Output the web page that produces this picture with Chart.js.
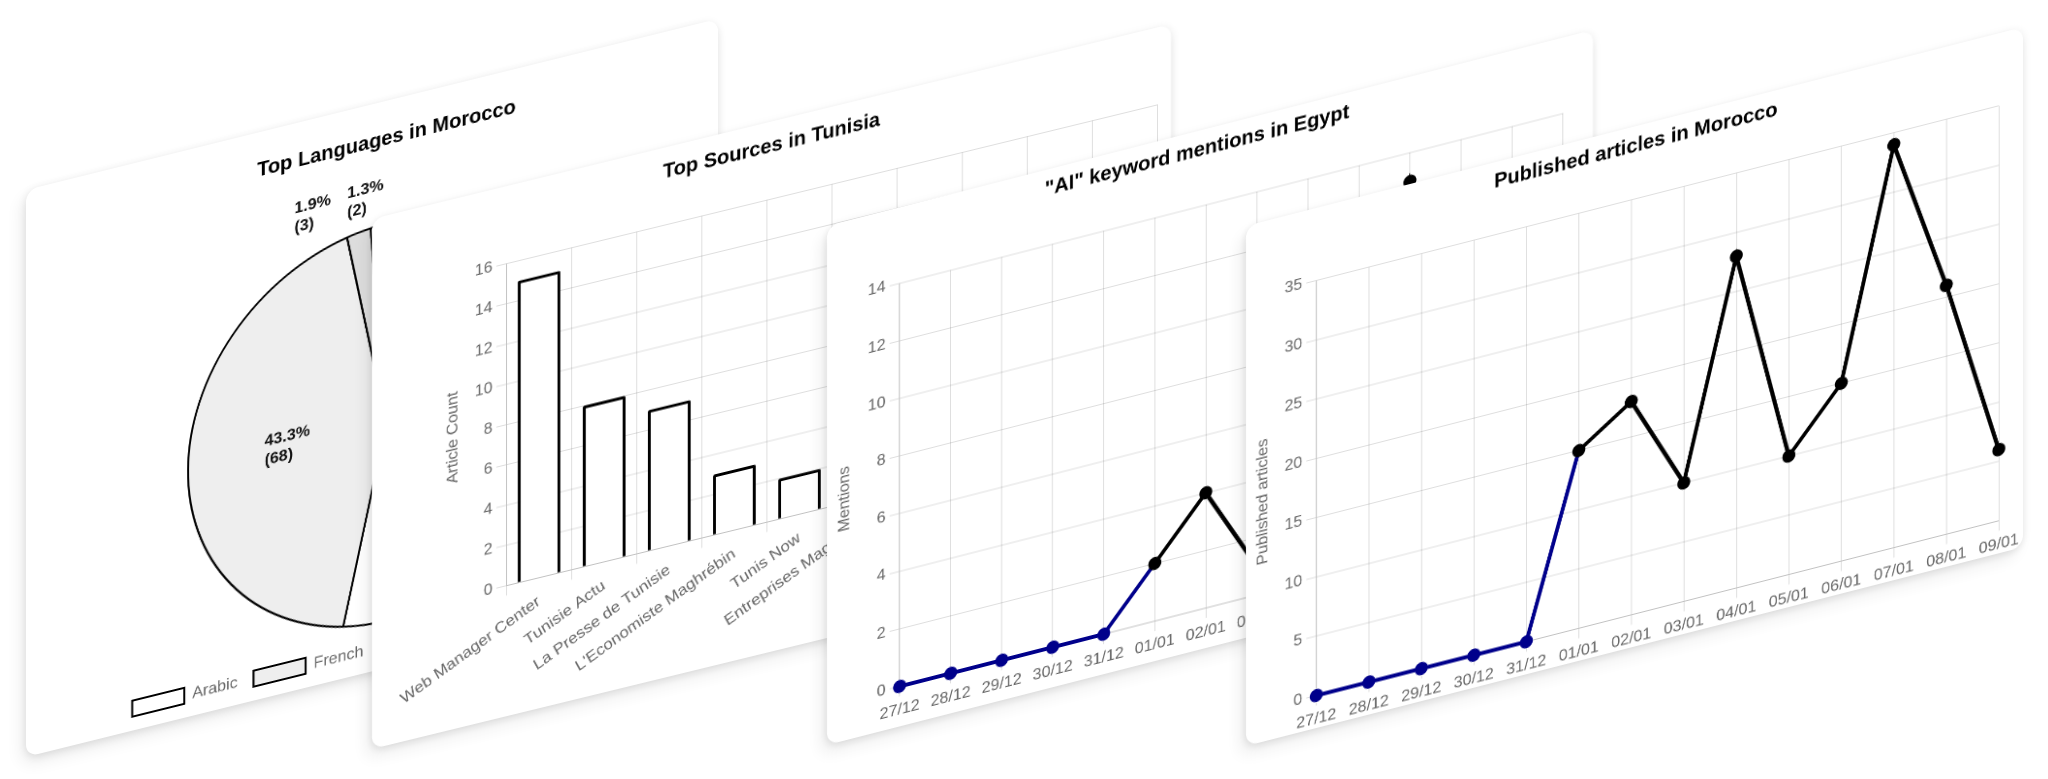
<!DOCTYPE html>
<html>
<head>
<meta charset="utf-8">
<script src="https://cdn.jsdelivr.net/npm/chart.js@4.4.1/dist/chart.umd.min.js"></script>
<style>
  html, body { margin:0; padding:0; background:#ffffff; width:2048px; height:779px; overflow:hidden; }
  .card { position:absolute; background:#fff; border-radius:12px; transform-origin:0 0;
          box-shadow: 0 2px 8px rgba(0,0,0,0.10), -5px 8px 16px rgba(0,0,0,0.07); overflow:hidden; }
  .card canvas { position:absolute; left:0; top:0; }
  #c1 { left:26px;  top:190px; width:692px; height:567px; transform:skewY(-13.9deg);  z-index:1; }
  #c2 { left:372px; top:219px; width:799px; height:530px; transform:skewY(-13.71deg); z-index:2; }
  #c3 { left:827px; top:226px; width:766px; height:519px; transform:skewY(-14.36deg); z-index:3; }
  #c4 { left:1246px;top:226px; width:777px; height:520px; transform:skewY(-14.36deg); z-index:4; }
</style>
</head>
<body>
<div class="card" id="c1"><canvas id="pie" width="692" height="567"></canvas></div>
<div class="card" id="c2"><canvas id="bar" width="799" height="530"></canvas></div>
<div class="card" id="c3"><canvas id="egypt" width="766" height="519"></canvas></div>
<div class="card" id="c4"><canvas id="morocco" width="777" height="520"></canvas></div>

<script>
// ---------------- DATA ----------------
const languageLabels = ['Arabic', 'French', 'English', 'Tamazight'];
const languageCounts = [84, 68, 3, 2];

const sourceLabels = ['Web Manager Center', 'Tunisie Actu', 'La Presse de Tunisie', "L'Economiste Maghrébin",
                      'Tunis Now', 'Entreprises Magazine', 'Kapitalis', 'Business News', 'Réalités', 'Leaders'];
const sourceCounts = [15, 8, 7, 3, 2, 2, 1, 1, 1, 1];

const dayLabels = ['27/12', '28/12', '29/12', '30/12', '31/12', '01/01', '02/01',
                   '03/01', '04/01', '05/01', '06/01', '07/01', '08/01', '09/01'];
const egyptMentions   = [0, 0, 0, 0, 0, 2, 4, 1, 3, 5, 13, 6, 4, 3];
const moroccoArticles = [0, 0, 0, 0, 0, 15, 18, 10, 28, 10, 15, 34, 21, 6];
const earlyPointCount = 5;   // first days drawn in blue

// ---------------- STYLE ----------------
const BLUE = '#00008b';
const GRID = 'rgba(0,0,0,0.13)';
const FONT = "'Liberation Sans', Arial, Helvetica, sans-serif";
Chart.defaults.font.family = FONT;
Chart.defaults.font.size = 16;
Chart.defaults.color = '#666';

const titleFont = { size: 20, weight: 'bold', family: FONT };

// ---------------- PIE ----------------
const pieValueLabels = {
  id: 'pieValueLabels',
  afterDatasetsDraw(chart) {
    const ds = chart.data.datasets[0];
    const meta = chart.getDatasetMeta(0);
    const total = ds.data.reduce((a, b) => a + b, 0);
    const n = ds.data.length;
    const ctx = chart.ctx;
    ctx.save();
    ctx.font = 'bold 16px ' + FONT;
    ctx.fillStyle = '#111';
    ctx.textAlign = 'left';
    ctx.textBaseline = 'middle';
    const lh = 19;
    meta.data.forEach((arc, i) => {
      const v = ds.data[i];
      const pct = v / total * 100;
      const lines = [pct.toFixed(1) + '%', '(' + v + ')'];
      const mid = (arc.startAngle + arc.endAngle) / 2;
      const w = Math.max(...lines.map(l => ctx.measureText(l).width));
      let cx, cy;
      if (pct >= 5) {
        cx = arc.x + Math.cos(mid) * arc.outerRadius / 2;
        cy = arc.y + Math.sin(mid) * arc.outerRadius / 2;
      } else {
        const r = arc.outerRadius + 30;
        cx = arc.x + Math.cos(mid) * r - 12 - 30 * (n - 1 - i);
        cy = arc.y + Math.sin(mid) * r;
      }
      const x0 = cx - w / 2;
      const y0 = cy - lh * (lines.length - 1) / 2;
      lines.forEach((l, k) => ctx.fillText(l, x0, y0 + k * lh));
    });
    ctx.restore();
  }
};

new Chart(document.getElementById('pie'), {
  type: 'pie',
  data: {
    labels: languageLabels,
    datasets: [{
      data: languageCounts,
      backgroundColor: ['#ffffff', '#eeeeee', '#dddddd', '#c8c8c8'],
      borderColor: '#000',
      borderWidth: 2
    }]
  },
  options: {
    responsive: false, animation: false, devicePixelRatio: 2,
    layout: { padding: { left: 29, right: 0, top: 0, bottom: 4 } },
    plugins: {
      title: { display: true, text: 'Top Languages in Morocco', color: '#000', font: titleFont,
               padding: { top: 26.5, bottom: 71.5 } },
      legend: { position: 'bottom',
                labels: { boxWidth: 52, boxHeight: 16, padding: 16, color: '#666', font: { size: 16 } } },
      tooltip: { enabled: false }
    }
  },
  plugins: [pieValueLabels]
});

// ---------------- BAR ----------------
new Chart(document.getElementById('bar'), {
  type: 'bar',
  data: {
    labels: sourceLabels,
    datasets: [{
      data: sourceCounts,
      backgroundColor: '#ffffff',
      borderColor: '#000',
      borderWidth: 3,
      borderRadius: 2,
      barPercentage: 0.82,
      categoryPercentage: 0.8
    }]
  },
  options: {
    responsive: false, animation: false, devicePixelRatio: 2,
    layout: { padding: { left: 13.4, right: 13.4, top: 0, bottom: 0 } },
    plugins: {
      legend: { display: false },
      tooltip: { enabled: false },
      title: { display: true, text: 'Top Sources in Tunisia', color: '#000', font: titleFont,
               padding: { top: 13, bottom: 40.5 } }
    },
    scales: {
      x: {
        grid: { color: GRID, tickLength: 10 },
        border: { color: GRID },
        ticks: { autoSkip: false, minRotation: 26, maxRotation: 26, padding: 4 },
        afterFit: s => { s.height = 130.6; }
      },
      y: {
        beginAtZero: true,
        grid: { color: GRID, tickLength: 10 },
        border: { color: GRID },
        ticks: { stepSize: 2, padding: 4 },
        title: { display: true, text: 'Article Count', padding: { top: 58, bottom: 4 } },
        afterFit: s => { s.width = 121.1; }
      }
    }
  }
});

// ---------------- LINES ----------------
function lineChart(id, title, yTitle, values, step, geo) {
  new Chart(document.getElementById(id), {
    type: 'line',
    data: {
      labels: dayLabels,
      datasets: [{
        data: values,
        borderColor: '#000',
        borderWidth: 4,
        tension: 0,
        fill: false,
        clip: false,
        pointRadius: 6.5,
        pointHoverRadius: 6.5,
        pointBorderWidth: 0,
        pointBackgroundColor: values.map((v, i) => i < earlyPointCount ? BLUE : '#000'),
        pointBorderColor: values.map((v, i) => i < earlyPointCount ? BLUE : '#000'),
        segment: { borderColor: ctx => ctx.p0DataIndex < earlyPointCount ? BLUE : '#000' }
      }]
    },
    options: {
      responsive: false, animation: false, devicePixelRatio: 2,
      layout: { padding: { left: geo.padL, right: geo.padR, top: 0, bottom: 0 } },
      plugins: {
        legend: { display: false },
        tooltip: { enabled: false },
        title: { display: true, text: title, color: '#000', font: titleFont,
                 padding: { top: geo.titleTop, bottom: geo.titleBottom } }
      },
      scales: {
        x: {
          grid: { color: GRID, tickLength: 10 },
          border: { color: GRID },
          ticks: { autoSkip: false, maxRotation: 0, minRotation: 0, padding: 4 },
          afterFit: s => { s.height = geo.xHeight; }
        },
        y: {
          beginAtZero: true,
          grid: { color: GRID, tickLength: 10 },
          border: { color: GRID },
          ticks: { stepSize: step, padding: 4 },
          title: { display: true, text: yTitle, padding: { top: geo.yTitlePad, bottom: 4 } },
          afterFit: s => { s.width = geo.yWidth; }
        }
      }
    }
  });
}

lineChart('egypt', '"AI" keyword mentions in Egypt', 'Mentions', egyptMentions, 2,
          { padL: 4, padR: 30, titleTop: 8, titleBottom: 43.8, xHeight: 40, yWidth: 68.6, yTitlePad: 4 });
lineChart('morocco', 'Published articles in Morocco', 'Published articles', moroccoArticles, 5,
          { padL: 26.8, padR: 24.2, titleTop: 8, titleBottom: 40.7, xHeight: 32.5, yWidth: 43.5, yTitlePad: -19.4 });
</script>
</body>
</html>
